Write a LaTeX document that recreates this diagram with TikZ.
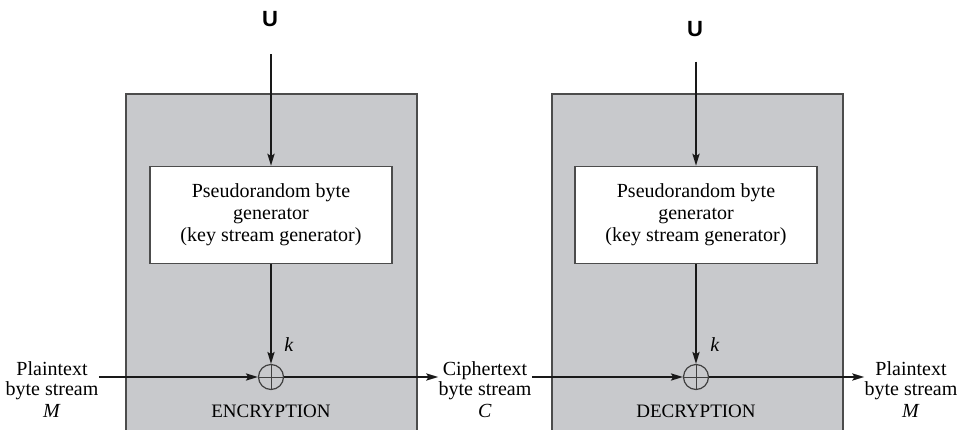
\documentclass[tikz,border=0pt]{standalone}
\usepackage{fontspec}
\setmainfont{Liberation Serif}
\newfontfamily\keyfont{Liberation Sans}
\usetikzlibrary{arrows.meta}

\definecolor{boxcol}{rgb}{0.785,0.79,0.80}
\definecolor{edgecol}{rgb}{0.30,0.30,0.30}

\begin{document}
\begin{tikzpicture}[
    x=0.5pt, y=-0.5pt,
    outerbox/.style={draw=edgecol, line width=0.8pt, fill=boxcol, anchor=north west, minimum width=145.5pt, minimum height=175pt, inner sep=0pt},
    genbox/.style={draw=edgecol, line width=0.8pt, fill=white, minimum width=121pt, minimum height=48.5pt, align=center, inner sep=0pt, font=\fontsize{10}{11}\selectfont},
    xor/.style={circle, draw=black!75, line width=0.6pt, minimum size=12.5pt, inner sep=0pt,
      path picture={\draw[line width=0.5pt] (path picture bounding box.north) -- (path picture bounding box.south)
                                           (path picture bounding box.west) -- (path picture bounding box.east);}},
    stream/.style={align=center, inner sep=0pt, anchor=north, font=\fontsize{10}{10}\selectfont},
    mode/.style={font=\fontsize{9.5}{10}\selectfont},
    keylabel/.style={font=\keyfont\bfseries\fontsize{11}{11}\selectfont},
    arrow/.style={-{Stealth[length=6pt,width=3.6pt,inset=1.2pt]}, line width=0.9pt, draw=black!90}
  ]

  \useasboundingbox (0,0) rectangle (959,429);
  \clip (0,0) rectangle (959,429);

  \coordinate (encp) at (125,93);
  \coordinate (decp) at (551,93);
  \coordinate (genEp) at (271,215);
  \coordinate (genDp) at (696,215);
  \coordinate (xorEp) at (271,377);
  \coordinate (xorDp) at (696,377);

  % Encryption side
  \node[outerbox] (enc) at (encp) {};
  \node[genbox] (genE) at (genEp) {Pseudorandom byte\\generator\\(key stream generator)};
  \node[xor] (xorE) at (xorEp) {};
  \node[keylabel] (ukeyE) at (270,19.5) {U};
  \node (kE) at (289,345) {\textit{k}};
  \node[mode] (encl) at (271,411) {ENCRYPTION};

  % Decryption side
  \node[outerbox] (dec) at (decp) {};
  \node[genbox] (genD) at (genDp) {Pseudorandom byte\\generator\\(key stream generator)};
  \node[xor] (xorD) at (xorDp) {};
  \node[keylabel] (ukeyD) at (695,29) {U};
  \node (kD) at (715,345) {\textit{k}};
  \node[mode] (decl) at (696,411) {DECRYPTION};

  % Byte streams
  \node[stream] (plainE) at (52,361) {Plaintext\\byte stream\\[1pt]\textit{M}};
  \node[stream] (cipher) at (485,361) {Ciphertext\\byte stream\\[1pt]\textit{C}};
  \node[stream] (plainD) at (911,361) {Plaintext\\byte stream\\[1pt]\textit{M}};

  % Key streams
  \draw[arrow, shorten <=10pt] (ukeyE.south -| genE.north) -- (genE.north);
  \draw[arrow] (genE.south) -- (xorE.north);
  \draw[arrow, shorten <=9pt] (ukeyD.south -| genD.north) -- (genD.north);
  \draw[arrow] (genD.south) -- (xorD.north);

  % Data path
  \draw[arrow] (plainE.east |- xorE) -- (xorE.west);
  \draw[arrow] (xorE.east) -- (cipher.west |- xorE);
  \draw[arrow] (cipher.east |- xorD) -- (xorD.west);
  \draw[arrow] (xorD.east) -- (plainD.west |- xorD);

\end{tikzpicture}
\end{document}
